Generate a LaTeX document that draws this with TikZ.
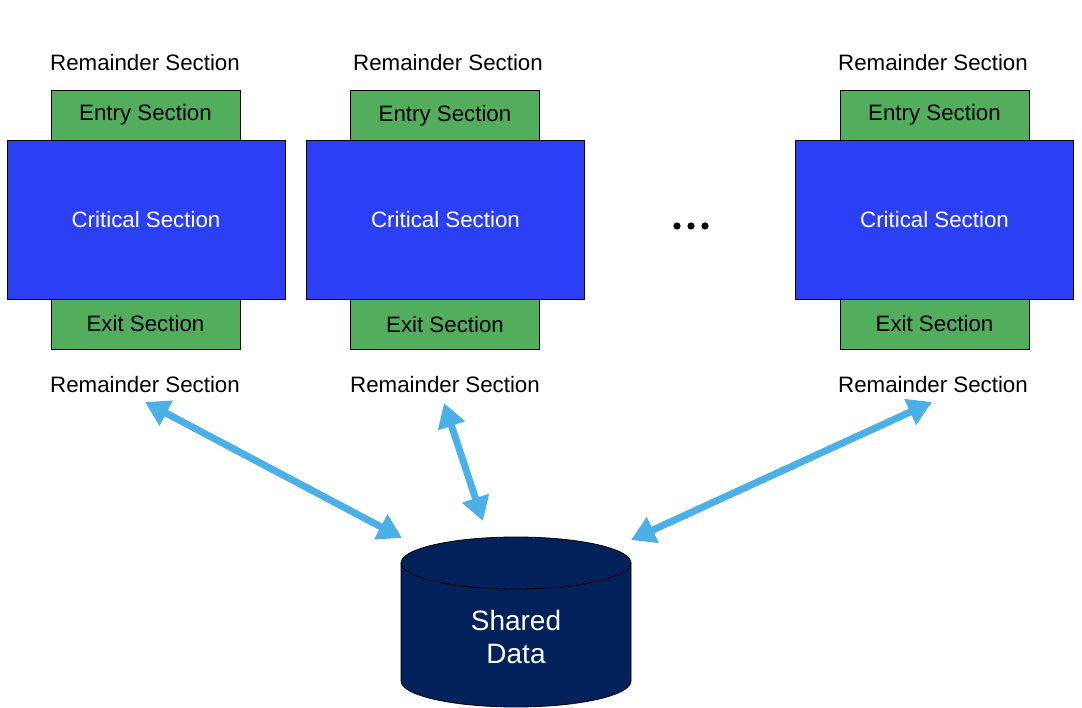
\documentclass[tikz,border=0pt]{standalone}
\usepackage{fontspec}
\setmainfont{Liberation Sans}
\usetikzlibrary{arrows.meta}

\definecolor{sectgreen}{HTML}{52AD5D}
\definecolor{critblue}{HTML}{2B40F4}
\definecolor{dbnavy}{HTML}{03215A}
\definecolor{linkblue}{HTML}{4BAFE8}

\begin{document}
\begin{tikzpicture}[
        x=1pt, y=-1pt,
        every node/.style={
            inner sep=0pt,
            font=\fontsize{22.3}{26}\selectfont
        },
        sect/.style={draw, line width=0.8pt, fill=sectgreen, minimum width=189pt, minimum height=50pt},
        crit/.style={draw, line width=0.8pt, fill=critblue, text=white, minimum width=278pt, minimum height=159pt},
        link/.style={{Triangle[length=24pt,width=27pt]}-{Triangle[length=24pt,width=27pt]}, line width=7pt, draw=linkblue}
    ]

        \useasboundingbox (0,0) rectangle (1082,708);

        % 1. proces
        \node (rem1a) at (145,63) {Remainder Section};
        \node[sect] (entry1) at (145.5,115) {Entry Section};
        \node[sect] (exit1) at (145.5,324) {Exit Section};
        \node[crit] (crit1) at (146,219.5) {Critical Section};
        \node (rem1b) at (145,385) {Remainder Section};

        % 2. proces
        \node (rem2a) at (448,63) {Remainder Section};
        \node[sect] (entry2) at (445,115.5) {Entry Section};
        \node[sect] (exit2) at (445,324.5) {Exit Section};
        \node[crit] (crit2) at (445.5,220) {Critical Section};
        \node (rem2b) at (445,385) {Remainder Section};

        % n. proces
        \node (rem3a) at (933,63) {Remainder Section};
        \node[sect] (entry3) at (934.5,115) {Entry Section};
        \node[sect] (exit3) at (934.5,324) {Exit Section};
        \node[crit] (crit3) at (934.5,219.5) {Critical Section};
        \node (rem3b) at (933,385) {Remainder Section};

        % tečky
        \fill (677,226) circle (3.6pt) (691,226) circle (3.6pt) (705,226) circle (3.6pt);

        % sdílená data
        \fill[dbnavy] (401,563) -- (401,681)
            arc[start angle=180, end angle=360, x radius=115pt, y radius=26pt]
            -- (631,563)
            arc[start angle=0, end angle=180, x radius=115pt, y radius=26pt] -- cycle;
        \draw[line width=0.8pt] (401,563) -- (401,681)
            arc[start angle=180, end angle=360, x radius=115pt, y radius=26pt]
            -- (631,563);
        \draw[line width=0.8pt] (516,563) ellipse [x radius=115pt, y radius=26pt];
        \node[text=white, align=center, font=\fontsize{28}{33}\selectfont] (data) at (516,637) {Shared\\Data};

        % konce spojnic
        \coordinate (tip1) at (145,402);
        \coordinate (tip2) at (444,403);
        \coordinate (tip3) at (932,402);
        \coordinate (dbl) at (402,538);
        \coordinate (dbm) at (483,521);
        \coordinate (dbr) at (631,540);

        % spojnice
        \draw[link] (tip1) -- (dbl);
        \draw[link] (tip2) -- (dbm);
        \draw[link] (tip3) -- (dbr);

    \end{tikzpicture}
\end{document}
